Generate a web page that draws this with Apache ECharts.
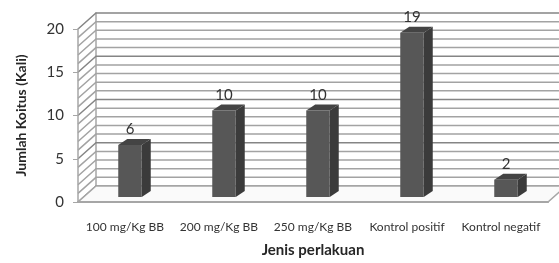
<!DOCTYPE html>
<html>
<head>
<meta charset="utf-8">
<script src="https://cdn.jsdelivr.net/npm/echarts@6/dist/echarts.min.js"></script>
<style>
  html, body { margin: 0; padding: 0; background: #fff; }
  #chart { width: 559px; height: 263px; }
</style>
</head>
<body>
<div id="chart"></div>
<script>
  // data
  var categories = ['100 mg/Kg BB', '200 mg/Kg BB', '250 mg/Kg BB', 'Kontrol positif', 'Kontrol negatif']
  var values = [6, 10, 10, 19, 2]
  var wallLevels = [0,1,2,3,4,5,6,7,8,9,10,11,12,13,14,15,16,17,18,19,20]

  var FONT = 'Lato, "Open Sans", sans-serif'
  // depth of the fake 3d walls
  var DX = 18, DY = -16
  // bar placement inside the depth + bar's own depth
  var BX = 5, BY = -5, BDX = 9, BDY = -6

  var myChart = echarts.init(document.getElementById('chart'), null, { renderer: 'canvas' })

  function floorItem(params, api) {
    var cs = params.coordSys
    var y0 = cs.y + cs.height
    return {
      type: 'polygon',
      shape: { points: [[cs.x, y0], [cs.x + cs.width, y0], [cs.x + cs.width + DX, y0 + DY], [cs.x + DX, y0 + DY]] },
      style: { fill: '#fafafa', stroke: '#a6a6a6', lineWidth: 1.5 },
      z2: 1
    }
  }

  // back wall gridline + side wall diagonal for one level
  function wallItem(params, api) {
    var cs = params.coordSys
    var v = api.value(1)
    var y = api.coord([0, v])[1]
    var major = v % 5 === 0
    var col = major ? '#858585' : '#a3a3a3'
    return {
      type: 'polyline',
      shape: { points: [[cs.x, y], [cs.x + DX, y + DY], [cs.x + cs.width + DX, y + DY]] },
      style: { stroke: col, lineWidth: 1.5, fill: null }
    }
  }

  function barItem(params, api) {
    var i = api.value(0)
    var v = api.value(1)
    var base = api.coord([i, 0])
    var top = api.coord([i, v])
    var w = api.size([1, 0])[0] * 0.25
    var fx = base[0] + BX - w / 2
    var ty = top[1] + BY
    var by = base[1] + BY
    return {
      type: 'group',
      children: [
        {
          type: 'polygon',
          shape: { points: [[fx + w, ty], [fx + w + BDX, ty + BDY], [fx + w + BDX, by + BDY], [fx + w, by]] },
          style: { fill: '#3b3b3b' }
        },
        {
          type: 'polygon',
          shape: { points: [[fx, ty], [fx + BDX, ty + BDY], [fx + w + BDX, ty + BDY], [fx + w, ty]] },
          style: { fill: '#444444' }
        },
        {
          type: 'rect',
          shape: { x: fx, y: ty, width: w, height: by - ty },
          style: { fill: '#575757' }
        },
        {
          type: 'text',
          x: fx + w / 2,
          y: ty + BDY - 2,
          style: {
            text: String(v),
            align: 'center',
            verticalAlign: 'bottom',
            fontSize: 15,
            fontFamily: FONT,
            fill: '#333'
          }
        }
      ]
    }
  }

  var options = {
    animation: false,
    grid: [
      { left: 78, top: 29, width: 470, height: 180 },
      { left: 78 + DX, top: 29 + DY, width: 470, height: 180 }
    ],
    xAxis: [
      {
        gridIndex: 0,
        type: 'category',
        data: categories,
        axisLine: { show: true, lineStyle: { color: '#a6a6a6', width: 2 } },
        axisTick: { show: false },
        axisLabel: { margin: 19, fontSize: 12, fontFamily: FONT, color: '#333', interval: 0 },
        name: 'Jenis perlakuan',
        nameLocation: 'middle',
        nameGap: 41,
        nameTextStyle: { fontSize: 15, fontWeight: 'bold', fontFamily: FONT, color: '#262626' },
        z: 5
      },
      {
        gridIndex: 1,
        type: 'category',
        data: categories,
        show: false
      }
    ],
    yAxis: [
      {
        gridIndex: 0,
        type: 'value',
        min: 0,
        max: 20,
        interval: 5,
        axisLine: { show: true, lineStyle: { color: '#a6a6a6', width: 1.5 } },
        axisTick: { show: true, length: 5, lineStyle: { color: '#a6a6a6' } },
        axisLabel: { margin: 14, fontSize: 15, fontFamily: FONT, color: '#333' },
        splitLine: { show: false },
        name: 'Jumlah Koitus (Kali)',
        nameLocation: 'middle',
        nameGap: 50,
        nameTextStyle: { fontSize: 14, fontWeight: 'bold', fontFamily: FONT, color: '#262626' },
        z: 5
      },
      {
        gridIndex: 1,
        type: 'value',
        min: 0,
        max: 20,
        interval: 5,
        axisLine: { show: true, lineStyle: { color: '#a6a6a6', width: 1.5 } },
        axisTick: { show: false },
        axisLabel: { show: false },
        splitLine: { show: false }
      }
    ],
    series: [
      {
        type: 'custom',
        name: 'walls',
        xAxisIndex: 0,
        yAxisIndex: 0,
        data: wallLevels.map(function (v) { return [0, v] }),
        renderItem: wallItem,
        silent: true,
        clip: false,
        z: 1
      },
      {
        type: 'custom',
        name: 'floor',
        xAxisIndex: 0,
        yAxisIndex: 0,
        data: [[0, 0]],
        renderItem: floorItem,
        silent: true,
        z: 2
      },
      {
        type: 'custom',
        name: 'Jumlah',
        xAxisIndex: 0,
        yAxisIndex: 0,
        data: values.map(function (v, i) { return [i, v] }),
        renderItem: barItem,
        z: 10
      }
    ]
  }

  myChart.setOption(options)
</script>
</body>
</html>
